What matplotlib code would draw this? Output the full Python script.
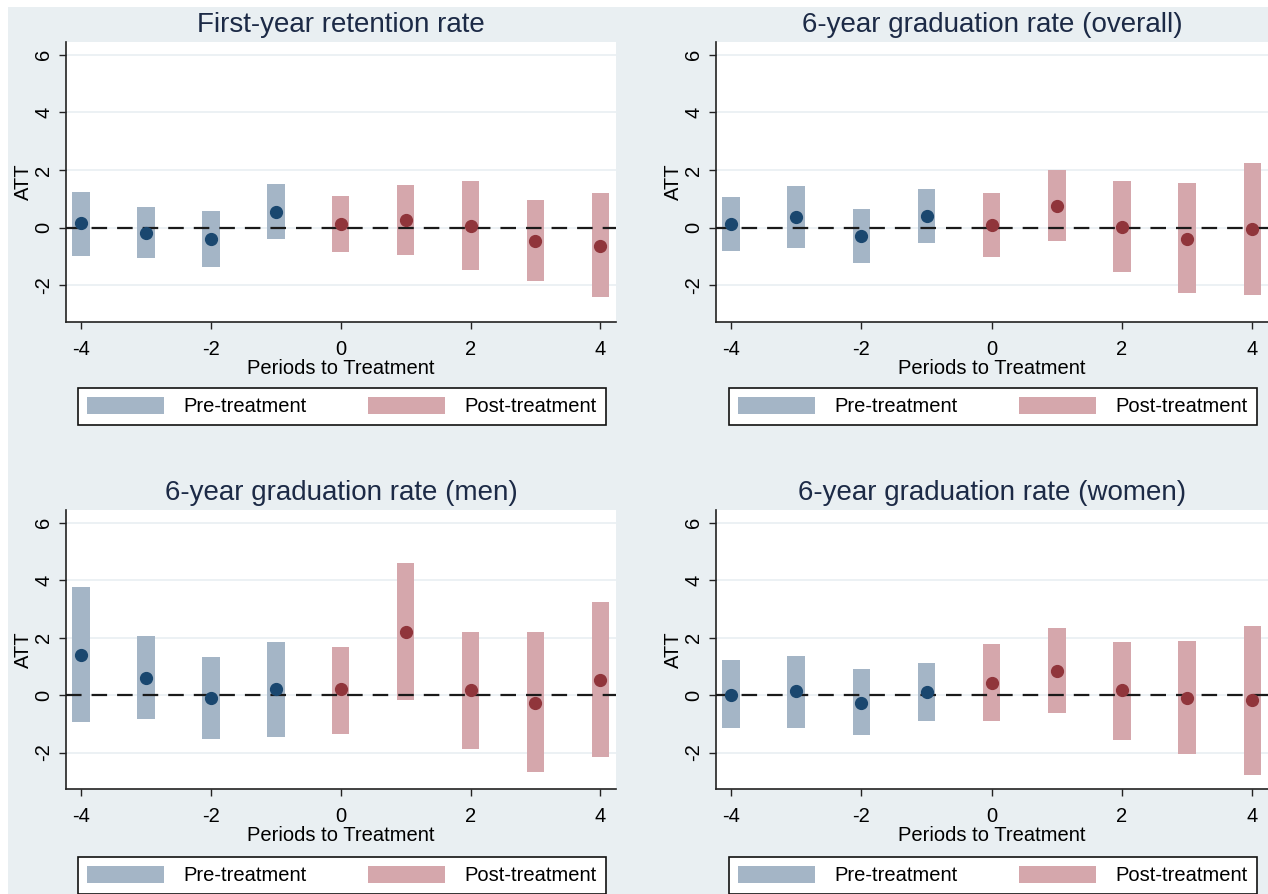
import matplotlib
matplotlib.use("Agg")
import matplotlib.pyplot as plt
from matplotlib.patches import Patch, Rectangle

plt.rcParams['font.family'] = ['Liberation Sans', 'DejaVu Sans']
plt.rcParams['axes.unicode_minus'] = False

periods = [-4, -3, -2, -1, 0, 1, 2, 3, 4]
titles = ["First-year retention rate", "6-year graduation rate (overall)",
          "6-year graduation rate (men)", "6-year graduation rate (women)"]

# point estimates
att_retention = [0.15, -0.18, -0.40, 0.55, 0.14, 0.25, 0.06, -0.46, -0.64]
att_overall = [0.12, 0.36, -0.30, 0.40, 0.10, 0.77, 0.03, -0.38, -0.05]
att_men = [1.41, 0.59, -0.10, 0.21, 0.20, 2.20, 0.18, -0.27, 0.54]
att_women = [0.01, 0.13, -0.27, 0.12, 0.43, 0.85, 0.16, -0.09, -0.18]

# confidence bands (upper / lower)
hi_retention = [1.24, 0.71, 0.57, 1.53, 1.10, 1.48, 1.63, 0.95, 1.20]
lo_retention = [-0.97, -1.05, -1.36, -0.40, -0.84, -0.96, -1.47, -1.86, -2.40]
hi_overall = [1.05, 1.43, 0.65, 1.34, 1.21, 2.01, 1.62, 1.54, 2.24]
lo_overall = [-0.80, -0.72, -1.23, -0.52, -1.01, -0.45, -1.54, -2.25, -2.34]
hi_men = [3.75, 2.04, 1.31, 1.84, 1.67, 4.60, 2.20, 2.19, 3.25]
lo_men = [-0.95, -0.85, -1.52, -1.45, -1.34, -0.17, -1.87, -2.69, -2.14]
hi_women = [1.21, 1.37, 0.89, 1.13, 1.79, 2.34, 1.84, 1.89, 2.39]
lo_women = [-1.15, -1.13, -1.39, -0.90, -0.92, -0.63, -1.56, -2.04, -2.79]

att = [att_retention, att_overall, att_men, att_women]
hi = [hi_retention, hi_overall, hi_men, hi_women]
lo = [lo_retention, lo_overall, lo_men, lo_women]

legend_labels = ["Pre-treatment", "Post-treatment"]
yticks = [-2, 0, 2, 4, 6]
xticks = [-4, -2, 0, 2, 4]

BG = "#e9eff2"
PRE_BAR = "#a4b5c6"
POST_BAR = "#d5a7ac"
PRE_PT = "#1a476f"
POST_PT = "#90353b"
TITLE_C = "#1c2a46"

W, H = 1268, 894
fig = plt.figure(figsize=(W / 100, H / 100), dpi=100, facecolor="white")
fig.patches.append(Rectangle((8 / W, 0), 1 - 8 / W, 1 - 7 / H, transform=fig.transFigure,
                             facecolor=BG, edgecolor='none', zorder=-10))

# axes boxes in pixels: (left, right, top, bottom)
boxes = [(66, 616, 42, 322), (716, 1268, 42, 322),
         (66, 616, 510, 789), (716, 1268, 510, 789)]
# legend boxes: (left, right, top)
legend_boxes = [(78, 606, 388), (729, 1257, 388),
                (78, 606, 857), (729, 1257, 857)]

for k in range(4):
    l, r, t, b = boxes[k]
    ax = fig.add_axes([l / W, 1 - b / H, (r - l) / W, (b - t) / H])
    ax.set_facecolor("white")
    ax.set_xlim(-4.23, 4.24)
    ax.set_ylim(-3.27, 6.44)
    ax.set_yticks(yticks)
    ax.set_xticks(xticks)
    ax.grid(axis='y', color="#e9eff2", linewidth=1.2)
    ax.set_axisbelow(True)
    for s in ["top", "right"]:
        ax.spines[s].set_visible(False)
    for s in ["left", "bottom"]:
        ax.spines[s].set_color("#222222")
        ax.spines[s].set_linewidth(1.2)
    ax.tick_params(axis='both', labelsize=14.5, length=5, width=1, color="#222222")
    ax.tick_params(axis='x', pad=8)
    ax.tick_params(axis='y', pad=4)
    for lab in ax.get_yticklabels():
        lab.set_rotation(90)
        lab.set_va('center')
    ax.set_ylabel("ATT", fontsize=14.5, labelpad=1)
    ax.set_xlabel("Periods to Treatment", fontsize=14.5, labelpad=0)
    ax.set_title(titles[k], fontsize=20, color=TITLE_C, pad=7)

    pre_x = [p for p in periods if p < 0]
    post_x = [p for p in periods if p >= 0]
    idx_pre = [i for i, p in enumerate(periods) if p < 0]
    idx_post = [i for i, p in enumerate(periods) if p >= 0]

    ax.bar(pre_x, [hi[k][i] - lo[k][i] for i in idx_pre], bottom=[lo[k][i] for i in idx_pre],
           width=0.27, color=PRE_BAR, zorder=2)
    ax.bar(post_x, [hi[k][i] - lo[k][i] for i in idx_post], bottom=[lo[k][i] for i in idx_post],
           width=0.27, color=POST_BAR, zorder=2)
    ax.axhline(0, color="#1a1a1a", linestyle=(0, (7, 4.5)), linewidth=1.6, zorder=3)
    ax.plot(pre_x, [att[k][i] for i in idx_pre], 'o', color=PRE_PT, ms=8.5, zorder=4)
    ax.plot(post_x, [att[k][i] for i in idx_post], 'o', color=POST_PT, ms=8.5, zorder=4)

    ll, lr, lt = legend_boxes[k]
    handles = [Patch(facecolor=PRE_BAR, edgecolor='none'), Patch(facecolor=POST_BAR, edgecolor='none')]
    leg = fig.legend(handles, legend_labels, ncol=2, mode="expand",
                     bbox_to_anchor=(ll / W, 1 - lt / H - 0.001, (lr - ll) / W, 0.001),
                     loc="upper left", borderaxespad=0, fontsize=14.5,
                     handlelength=3.8, handleheight=0.9, handletextpad=1.0,
                     frameon=True, fancybox=False, edgecolor="#111111", framealpha=1,
                     borderpad=0.45)
    leg.get_frame().set_linewidth(1.2)

fig.savefig("out.png", dpi=100, facecolor="white")
